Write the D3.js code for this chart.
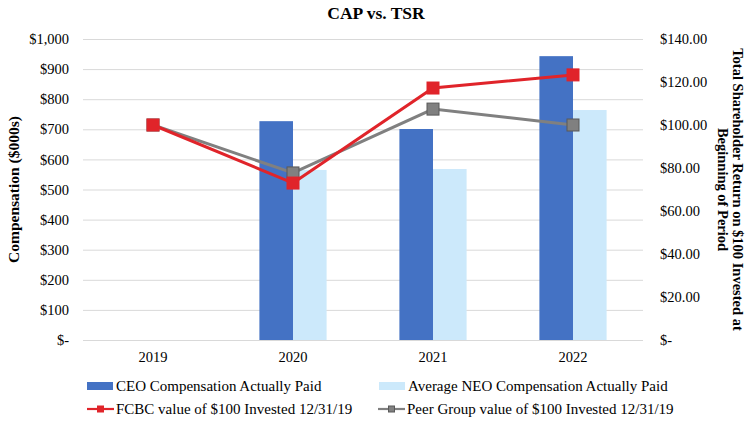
<html>
<head>
<script src="https://d3js.org/d3.v7.min.js"></script>
<style>
  body { margin: 0; background: #fff; }
  svg text { font-family: "Liberation Serif", "Times New Roman", serif; fill: #000; }
</style>
</head>
<body>
<div id="chart"></div>
<script>
// chart data
var years = ["2019", "2020", "2021", "2022"];
var ceoCap = [null, 727, 701, 943];
var neoCap = [null, 565, 568, 764];
var fcbcTsr = [100, 73, 117.2, 123.3];
var peerTsr = [100, 77.7, 107.4, 100];
var leftTicks = [0, 100, 200, 300, 400, 500, 600, 700, 800, 900, 1000];
var rightTicks = [0, 20, 40, 60, 80, 100, 120, 140];

var W = 755, H = 423;
var margin = {top: 39, right: 112, bottom: 83, left: 83};
var width = W - margin.left - margin.right,
    height = H - margin.top - margin.bottom;

var svg = d3.select("#chart").append("svg")
    .attr("width", W).attr("height", H);

svg.append("text")
    .attr("x", 376).attr("y", 19)
    .attr("text-anchor", "middle")
    .style("font-size", "17.5px").style("font-weight", "bold")
    .text("CAP vs. TSR");

var g = svg.append("g").attr("transform", "translate(" + margin.left + "," + margin.top + ")");

var x = d3.scaleBand().domain(years).range([0, width]);
var xBar = d3.scaleBand().domain(["ceo", "neo"]).range([0, x.step() * 0.48]);
var yL = d3.scaleLinear().domain([0, 1000]).range([height, 0]);
var yR = d3.scaleLinear().domain([0, 140]).range([height, 0]);

// gridlines
g.append("g")
    .call(d3.axisLeft(yL).tickValues(leftTicks).tickSize(-width).tickFormat(""))
    .call(function (a) {
        a.select(".domain").remove();
        a.selectAll("line").attr("stroke", "#d9d9d9");
    });

// left axis labels
g.append("g")
    .call(d3.axisLeft(yL).tickValues(leftTicks).tickSize(0).tickPadding(14)
        .tickFormat(function (d) { return d === 0 ? "$-" : "$" + d3.format(",")(d); }))
    .call(function (a) {
        a.select(".domain").remove();
        a.selectAll("text").style("font-size", "14.5px").style("font-family", "Liberation Serif");
    });

// right axis labels
g.append("g")
    .attr("transform", "translate(" + width + ",0)")
    .call(d3.axisRight(yR).tickValues(rightTicks).tickSize(0).tickPadding(17)
        .tickFormat(function (d) { return d === 0 ? "$-" : "$" + d3.format(".2f")(d); }))
    .call(function (a) {
        a.select(".domain").remove();
        a.selectAll("text").style("font-size", "14.5px").style("font-family", "Liberation Serif");
    });

// x axis labels
g.append("g")
    .attr("transform", "translate(0," + height + ")")
    .call(d3.axisBottom(x).tickSize(0).tickPadding(12))
    .call(function (a) {
        a.select(".domain").remove();
        a.selectAll("text").style("font-size", "14.5px").style("font-family", "Liberation Serif");
    });

// bars
var offset = (x.bandwidth() - xBar.range()[1]) / 2;
function bars(values, key, color) {
    g.selectAll(".bar-" + key)
        .data(years.map(function (y, i) { return {year: y, v: values[i]}; })
            .filter(function (d) { return d.v != null; }))
        .enter().append("rect")
        .attr("x", function (d) { return x(d.year) + offset + xBar(key); })
        .attr("y", function (d) { return yL(d.v); })
        .attr("width", xBar.bandwidth())
        .attr("height", function (d) { return height - yL(d.v); })
        .attr("fill", color);
}
bars(ceoCap, "ceo", "#4472c4");
bars(neoCap, "neo", "#cce9fb");

// lines
function series(values, color, mcolor, mstroke) {
    var pts = years.map(function (y, i) { return [x(y) + x.bandwidth() / 2, yR(values[i])]; });
    g.append("path")
        .attr("d", d3.line()(pts))
        .attr("fill", "none").attr("stroke", color).attr("stroke-width", 3);
    g.selectAll(null).data(pts).enter().append("rect")
        .attr("x", function (d) { return d[0] - 6; })
        .attr("y", function (d) { return d[1] - 6; })
        .attr("width", 12).attr("height", 12)
        .attr("fill", mcolor).attr("stroke", mstroke).attr("stroke-width", 1);
}
series(peerTsr, "#808080", "#808080", "#595959");
series(fcbcTsr, "#e0242a", "#e0242a", "#e0242a");

// axis titles
svg.append("text")
    .attr("transform", "translate(19," + (margin.top + height / 2) + ") rotate(-90)")
    .attr("text-anchor", "middle")
    .style("font-size", "15.5px").style("font-weight", "bold")
    .text("Compensation ($000s)");

var rt = svg.append("text")
    .attr("transform", "translate(733," + (margin.top + height / 2) + ") rotate(90)")
    .attr("text-anchor", "middle")
    .style("font-size", "14.5px").style("font-weight", "bold");
rt.append("tspan").attr("x", 0).attr("dy", 0).text("Total Shareholder Return on $100 Invested at");
rt.append("tspan").attr("x", 0).attr("dy", 15).text("Beginning of Period");

// legend
var legend = [
    {label: "CEO Compensation Actually Paid", type: "bar", color: "#4472c4", x: 87, y: 386},
    {label: "Average NEO Compensation Actually Paid", type: "bar", color: "#cce9fb", x: 379, y: 386},
    {label: "FCBC value of $100 Invested 12/31/19", type: "line", color: "#e0242a", stroke: "#e0242a", x: 87, y: 409},
    {label: "Peer Group value of $100 Invested 12/31/19", type: "line", color: "#808080", stroke: "#595959", x: 378, y: 409}
];
var lg = svg.selectAll(".lg").data(legend).enter().append("g")
    .attr("transform", function (d) { return "translate(" + d.x + "," + d.y + ")"; });
lg.filter(function (d) { return d.type === "bar"; }).append("rect")
    .attr("x", 0).attr("y", -4).attr("width", 26).attr("height", 8)
    .attr("fill", function (d) { return d.color; });
var ll = lg.filter(function (d) { return d.type === "line"; });
ll.append("line").attr("x1", 0).attr("x2", 27).attr("y1", 0).attr("y2", 0)
    .attr("stroke", function (d) { return d.color; }).attr("stroke-width", 2.2);
ll.append("rect").attr("x", 10.5).attr("y", -3).attr("width", 6).attr("height", 6)
    .attr("fill", function (d) { return d.color; })
    .attr("stroke", function (d) { return d.stroke; });
lg.append("text")
    .attr("x", function (d) { return d.type === "bar" ? 29 : 29; })
    .attr("y", 5)
    .style("font-size", "15px")
    .text(function (d) { return d.label; });
</script>
</body>
</html>
